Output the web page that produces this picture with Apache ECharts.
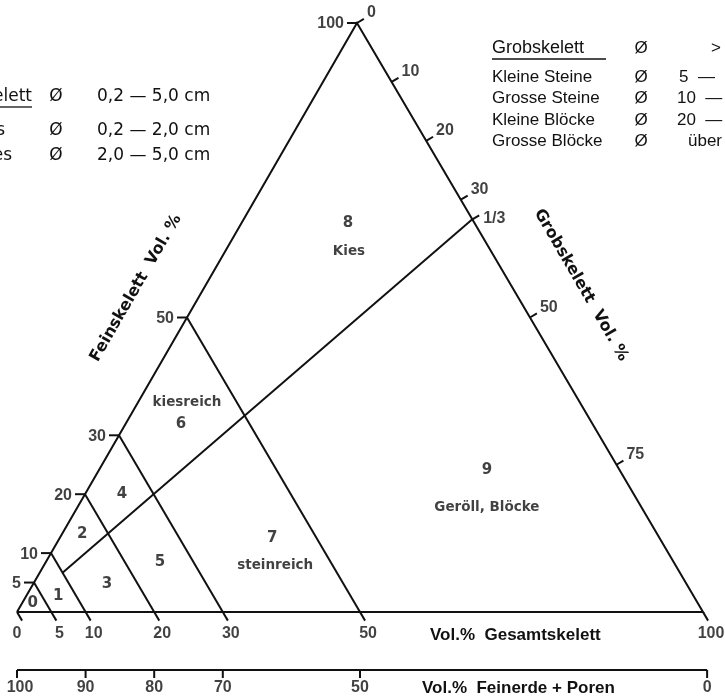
<!DOCTYPE html>
<html><head><meta charset="utf-8">
<script src="https://cdn.jsdelivr.net/npm/echarts@6/dist/echarts.min.js"></script>
<style>html,body{margin:0;padding:0;background:#fff}#c{width:725px;height:698px}</style>
</head><body><div id="c"></div>
<script>
// ---------------- data ----------------
const bottomTicks = [0, 5, 10, 20, 30, 50, 100];      // Vol.% Gesamtskelett
const leftTicks = [5, 10, 20, 30, 50, 100];            // Feinskelett Vol.%
const rightTicks = [0, 10, 20, 30, 50, 75];            // Grobskelett Vol.%
const rightSpecialValue = 100 / 3;
const rightSpecialLabel = '1/3';
const classBounds = [5, 10, 20, 30, 50];               // class limits (Gesamtskelett)
const grobBound = 100 / 3;                             // Grobskelett share limit
const feinerdeTicks = [100, 90, 80, 70, 50, 0];        // Vol.% Feinerde + Poren
const regionIds = ['0', '1', '2', '3', '4', '5', '6', '7', '8', '9'];
const regionNames = { '6': 'kiesreich', '7': 'steinreich', '8': 'Kies', '9': 'Geröll, Blöcke' };
const feinLegendNames = ['Feinskelett', 'Feinkies', 'Grobkies'];
const feinLegendRanges = ['0,2 — 5,0 cm', '0,2 — 2,0 cm', '2,0 — 5,0 cm'];
const grobLegendNames = ['Grobskelett', 'Kleine Steine', 'Grosse Steine', 'Kleine Blöcke', 'Grosse Blöcke'];
const grobLegendRanges = ['> 5 cm', '5  —  10 cm', '10  —  20 cm', '20  —  50 cm', 'über 50 cm'];

// ---------------- layout ----------------
const W = 686, H = 589;          // pixel size of one axis unit
const TX = 0.4956;               // apex position along the base
const L = t => [t / 100 * TX, t / 100];
const R = s => [TX + s / 100 * (1 - TX), 1 - s / 100];
const B = b => [b / 100, 0];
const off = (p, dx, dy) => [p[0] + dx / W, p[1] - dy / H];
const edgeLen = Math.hypot((1 - TX) * W, H);
const dirR = [(1 - TX) * W / edgeLen, H / edgeLen];   // along right edge (screen)
const nrm = [H / edgeLen, -(1 - TX) * W / edgeLen];   // outward normal of right edge
function intersect(p1, p2, p3, p4) {
  const d = (p1[0] - p2[0]) * (p3[1] - p4[1]) - (p1[1] - p2[1]) * (p3[0] - p4[0]);
  const a = p1[0] * p2[1] - p1[1] * p2[0], b = p3[0] * p4[1] - p3[1] * p4[0];
  return [(a * (p3[0] - p4[0]) - (p1[0] - p2[0]) * b) / d, (a * (p3[1] - p4[1]) - (p1[1] - p2[1]) * b) / d];
}
const regionPos = { '0': [2.3, 1.5], '1': [6.0, 2.7], '2': [9.5, 13.2], '3': [13.1, 4.75], '4': [15.3, 20.0],
  '5': [20.85, 8.5], '6': [23.9, 31.9], '7': [37.2, 12.6], '8': [48.25, 66.0], '9': [68.5, 24.1] };
const nameDy = { '6': -22, '7': 28, '8': 28, '9': 37 };
const nameDx = { '6': 6, '7': 3, '8': 1, '9': 0 };

const NUM = 'Liberation Sans', LET = 'DejaVu Sans';
const segs = [];
segs.push({ coords: [B(0), B(100), [TX, 1], B(0)] });
classBounds.forEach(v => segs.push({ coords: [L(v), B(v)] }));
const dStart = intersect(L(10), B(10), [0, 0], R(grobBound));
segs.push({ coords: [dStart, R(grobBound)] });
bottomTicks.forEach(b => segs.push({ coords: [B(b), off(B(b), dirR[0] * 10, dirR[1] * 10)] }));
leftTicks.forEach(t => segs.push({ coords: [L(t), off(L(t), -10, 0)] }));
rightTicks.concat([rightSpecialValue]).forEach(s => segs.push({ coords: [R(s), off(R(s), nrm[0] * 8, nrm[1] * 8)] }));
const y2 = -(670 - 612) / H;
segs.push({ coords: [[0, y2], [1.006, y2]] });
feinerdeTicks.forEach(f => { const x = (100 - f) / 100 + (f === 0 ? 0.006 : 0); segs.push({ coords: [[x, y2], off([x, y2], 0, 8)] }); });

const texts = [];
function txt(p, text, o) {
  texts.push({ value: p, label: Object.assign({ show: true, position: 'inside', formatter: text,
    fontFamily: NUM, fontSize: 16, fontWeight: 'bold', color: '#111', align: 'center', verticalAlign: 'middle' }, o || {}) });
}
bottomTicks.forEach(b => {
  const e = off(B(b), dirR[0] * 10, dirR[1] * 10);
  txt(off(e, b === 0 ? -5 : 3, 13), String(b));
});
leftTicks.forEach(t => txt(off(L(t), -13, 1), String(t), { align: 'right' }));
rightTicks.forEach(s => txt(off(R(s), nrm[0] * 8 + 3, nrm[1] * 8 - 6), String(s), { align: 'left' }));
txt(off(R(rightSpecialValue), nrm[0] * 8 + 4, nrm[1] * 8 + 3), rightSpecialLabel, { align: 'left' });
feinerdeTicks.forEach(f => { const x = (100 - f) / 100 + (f === 0 ? 0.006 : 0); txt(off([x, y2], f === 100 ? 3 : 0, 18), String(f)); });
regionIds.forEach(id => {
  const p = [regionPos[id][0] / 100, regionPos[id][1] / 100];
  txt(p, id, { fontFamily: LET, fontSize: 15, fontWeight: 'bold' });
  if (regionNames[id]) txt(off(p, nameDx[id], nameDy[id]), regionNames[id], { fontFamily: LET, fontSize: 13.5, fontWeight: 'bold' });
});

// annotations (legends and axis titles) in pixels
const g = [];
function gt(x, y, text, o) {
  g.push({ type: 'text', x: x, y: y, silent: true, style: Object.assign({ text: text, fill: '#111',
    font: '17px "Liberation Sans"', align: 'left', verticalAlign: 'middle' }, o || {}) });
}
function gl(x1, y1, x2, y2_) { g.push({ type: 'line', silent: true, shape: { x1: x1, y1: y1, x2: x2, y2: y2_ }, style: { stroke: '#111', lineWidth: 1.3 } }); }
const feinRows = [97, 131, 156], feinEnds = [32, 5, 12];
const FL = '17px "DejaVu Sans"';
feinLegendNames.forEach((n, i) => {
  gt(feinEnds[i], feinRows[i], n, { align: 'right', font: FL });
  gt(56, feinRows[i], 'Ø', { align: 'center', font: FL });
  gt(97, feinRows[i], feinLegendRanges[i], { font: FL });
});
gl(0, 107, 32, 107);
const grobRows = [48, 77, 98, 120, 141];
const grobValX = [711, 679, 677, 677, 688];
grobLegendNames.forEach((n, i) => {
  gt(492, grobRows[i], n, { font: (i === 0 ? '18px' : '17px') + ' "Liberation Sans"' });
  gt(641, grobRows[i], 'Ø', { align: 'center' });
  gt(grobValX[i], grobRows[i], grobLegendRanges[i]);
});
gl(492, 59, 606, 59);
gt(430, 635, 'Vol.%  Gesamtskelett', { font: 'bold 17px "Liberation Sans"' });
gt(422, 688, 'Vol.%  Feinerde + Poren', { font: 'bold 17px "Liberation Sans"' });
g.push({ type: 'text', x: 136, y: 288, rotation: Math.PI / 3, silent: true,
  style: { text: 'Feinskelett  Vol. %', font: 'bold 16px "DejaVu Sans"', fill: '#111', align: 'center', verticalAlign: 'middle' } });
g.push({ type: 'text', x: 581, y: 285, rotation: -Math.PI / 3, silent: true,
  style: { text: 'Grobskelett  Vol. %', font: 'bold 16px "DejaVu Sans"', fill: '#111', align: 'center', verticalAlign: 'middle' } });

const chart = echarts.init(document.getElementById('c'));
chart.setOption({
  animation: false,
  grid: { left: 0, right: 0, top: 0, bottom: 0 },
  xAxis: { type: 'value', min: -17 / W, max: 708 / W, show: false },
  yAxis: { type: 'value', min: -86 / H, max: 612 / H, show: false },
  graphic: g,
  series: [
    { type: 'lines', coordinateSystem: 'cartesian2d', polyline: true, silent: true,
      lineStyle: { color: '#111', width: 2, opacity: 1 }, data: segs },
    { type: 'scatter', symbolSize: 0, silent: true, data: texts }
  ]
});
</script></body></html>
